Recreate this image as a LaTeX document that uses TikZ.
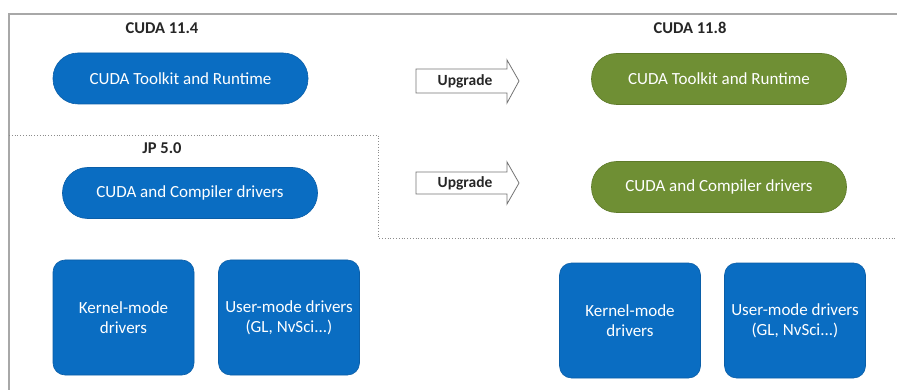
\documentclass[tikz,border=0pt]{standalone}
\usepackage{fontspec}
\setmainfont{Carlito}
\definecolor{nvblue}{HTML}{0A6DC2}
\definecolor{nvblueedge}{HTML}{0A5EA8}
\definecolor{nvgreen}{HTML}{6F8F34}
\definecolor{nvgreenedge}{HTML}{5E7A2A}
\definecolor{framegray}{HTML}{A8A8A8}
\tikzset{
  pill/.style={fill=nvblue, draw=nvblueedge, line width=0.6pt, rounded corners=25pt,
    minimum width=255pt, minimum height=51pt, text=white, inner sep=0pt,
    font=\fontsize{17}{20}\selectfont},
  gpill/.style={pill, fill=nvgreen, draw=nvgreenedge},
  drvbox/.style={fill=nvblue, draw=nvblueedge, line width=0.6pt, rounded corners=12pt,
    minimum width=141pt, minimum height=115pt, text=white, inner sep=0pt, align=center,
    font=\fontsize{17}{20}\selectfont},
  title/.style={font=\fontsize{16.5}{20}\selectfont\bfseries, text=black!85, inner sep=0pt},
  upgtext/.style={font=\fontsize{15.5}{18}\selectfont\bfseries, text=black!85, inner sep=0pt},
  upgline/.style={draw=black!55, line width=0.8pt, line join=miter},
  frameline/.style={draw=framegray, line width=1.5pt},
  dotline/.style={draw=black!45, line width=0.8pt, dotted}
}
\begin{document}
\begin{tikzpicture}[x=1pt,y=-1pt]
\useasboundingbox (0,0) rectangle (897,390);
% outer frame
\coordinate (ftl) at (9,14);
\coordinate (ftr) at (897,14);
\coordinate (fbl) at (9,390);
\draw[frameline] (fbl) -- (ftl) -- (ftr);
% dotted separator
\coordinate (d1) at (9,135);
\coordinate (d2) at (378,135);
\coordinate (d3) at (378,238);
\coordinate (d4) at (897,238);
\draw[dotline] (d1) -- (d2) -- (d3) -- (d4);
% titles
\node[title] (t114) at (162,28) {CUDA 11.4};
\node[title] (tjp) at (162,148) {JP 5.0};
\node[title] (t118) at (690,28) {CUDA 11.8};
% left column
\node[pill] (ltk) at (180.5,78.5) {CUDA Toolkit and Runtime};
\node[pill] (lcc) at (190,193) {CUDA and Compiler drivers};
\node[drvbox] (lkm) at (123.5,317.5) {Kernel-mode\\drivers};
\node[drvbox] (lum) at (289,317.5) {User-mode drivers\\(GL, NvSci...)};
% right column
\node[gpill] (rtk) at (719,79) {CUDA Toolkit and Runtime};
\node[gpill] (rcc) at (719,187) {CUDA and Compiler drivers};
\node[drvbox] (rkm) at (630,320.5) {Kernel-mode\\drivers};
\node[drvbox] (rum) at (795,320.5) {User-mode drivers\\(GL, NvSci...)};
% upgrade arrows
\draw[upgline] (416,69) -- (507,69) -- (507,60) -- (519,81) -- (507,103) -- (507,93) -- (416,93) -- cycle;
\node[upgtext] (up1) at (465,81) {Upgrade};
\draw[upgline] (416,172) -- (507,172) -- (507,162) -- (519,183) -- (507,204) -- (507,194) -- (416,194) -- cycle;
\node[upgtext] (up2) at (465,183) {Upgrade};
\end{tikzpicture}
\end{document}
